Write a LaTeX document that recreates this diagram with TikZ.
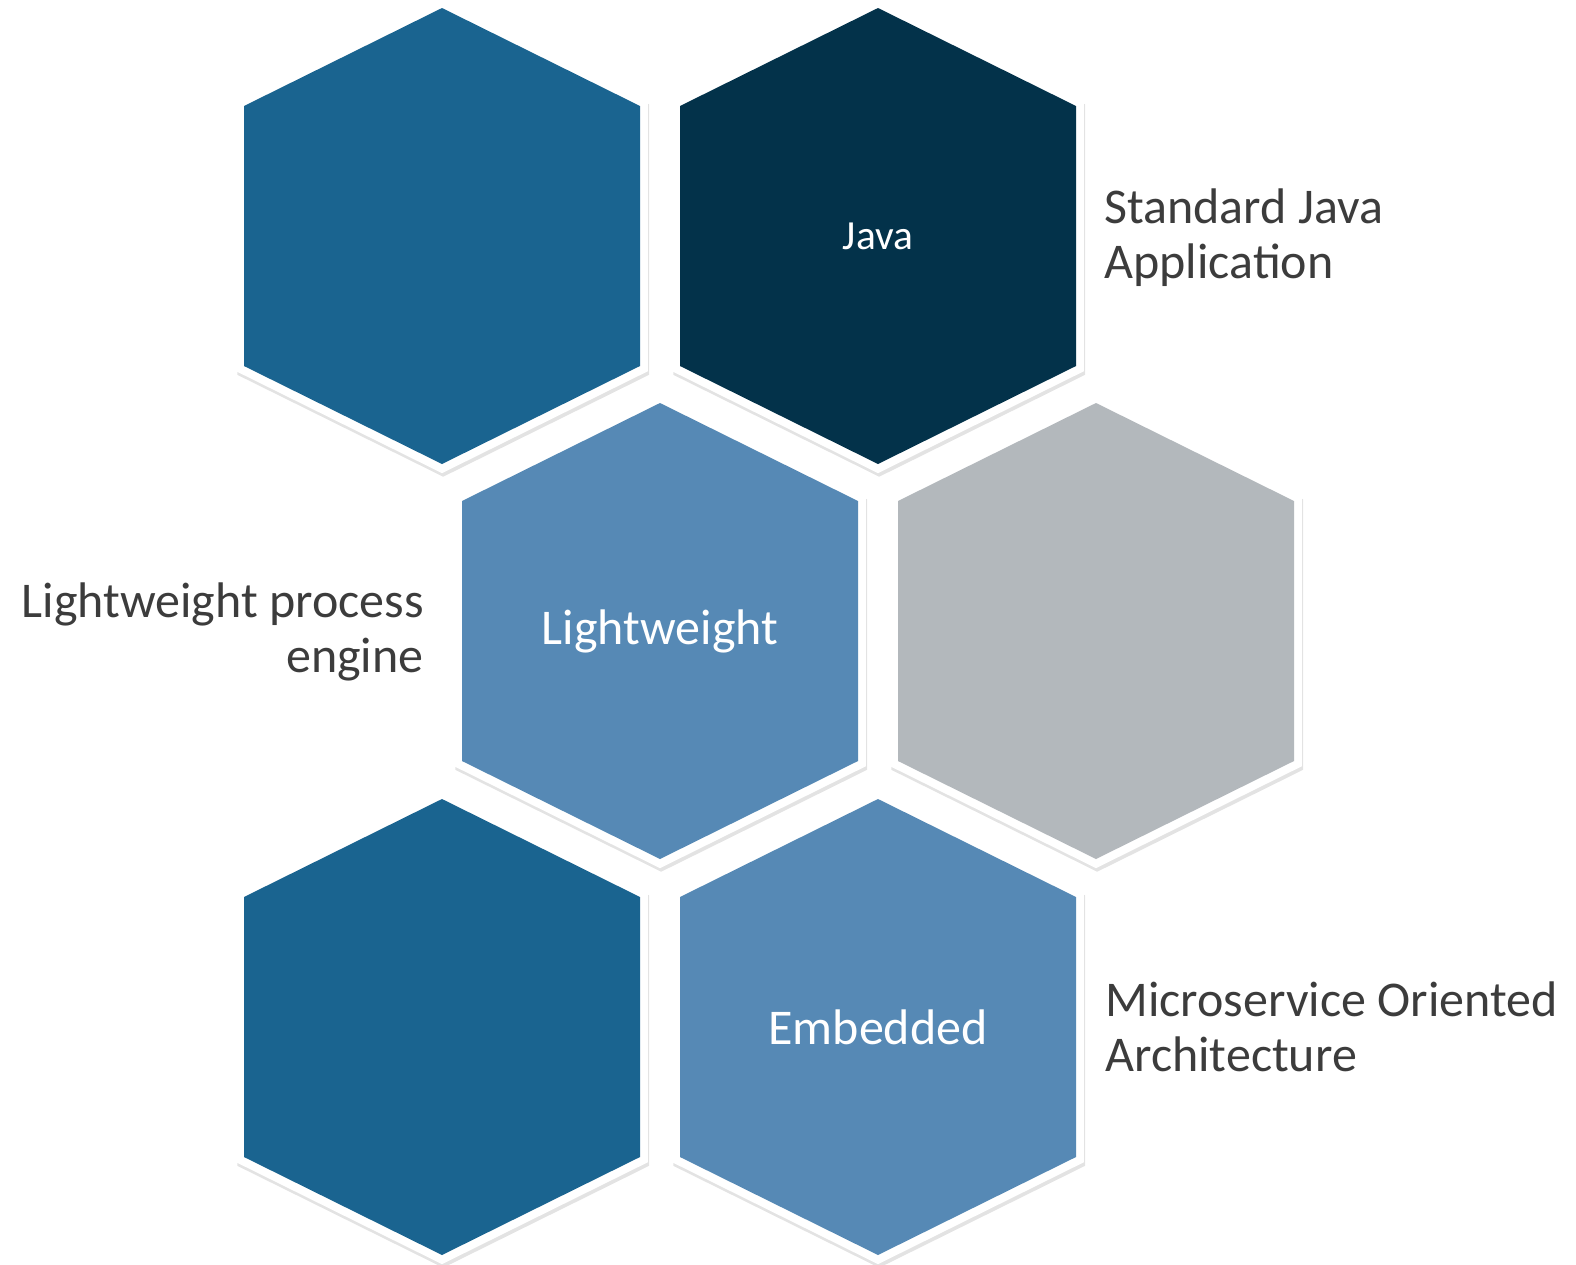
\documentclass[tikz,border=0pt]{standalone}
\usepackage{fontspec}
\setmainfont{Carlito}
\usetikzlibrary{shadows}
\definecolor{midblue}{RGB}{26,100,144}
\definecolor{darkblue}{RGB}{3,50,74}
\definecolor{lightblue}{RGB}{86,137,181}
\definecolor{cellgray}{RGB}{179,184,188}
\definecolor{labelgray}{RGB}{60,60,60}
\tikzset{
  hexrim/.style={fill=white, scale=1.04,
    drop shadow={shadow xshift=0.6pt, shadow yshift=-1.8pt, opacity=0.22}},
  hextext/.style={text=white, inner sep=0pt, font=\fontsize{25pt}{28pt}\selectfont},
  sidelabel/.style={text=labelgray, font=\fontsize{25pt}{27.5pt}\selectfont, inner sep=0pt}
}
% #1 name, #2 centre, #3 colour, #4 text
\newcommand{\hexcell}[4]{%
  \path[shift={#2}, hexrim] (0,-228) -- (198,-130) -- (198,130) -- (0,228) -- (-198,130) -- (-198,-130) -- cycle;
  \fill[shift={#2}, #3] (0,-228) -- (198,-130) -- (198,130) -- (0,228) -- (-198,130) -- (-198,-130) -- cycle;
  \node[hextext] (#1) at #2 {#4};
}
\begin{document}
\begin{tikzpicture}[x=0.5pt,y=-0.5pt]
    \useasboundingbox (0,0) rectangle (1576,1265);
    % honeycomb
    \hexcell{tl}{(442,236)}{midblue}{}
    \hexcell{java}{(878,236)}{darkblue}{\fontsize{20.7pt}{23pt}\selectfont Java}
    \hexcell{light}{(660,631)}{lightblue}{Lightweight}
    \hexcell{gray}{(1096,631)}{cellgray}{}
    \hexcell{bl}{(442,1027)}{midblue}{}
    \hexcell{embed}{(878,1027)}{lightblue}{Embedded}
    % side texts
    \node[sidelabel, anchor=west, align=left] (javatxt) at (1104,238) {Standard Java\\Application};
    \node[sidelabel, anchor=east, align=right] (lighttxt) at (424,632) {Lightweight process\\engine};
    \node[sidelabel, anchor=west, align=left] (embedtxt) at (1105,1027) {Microservice Oriented\\Architecture};
\end{tikzpicture}
\end{document}
